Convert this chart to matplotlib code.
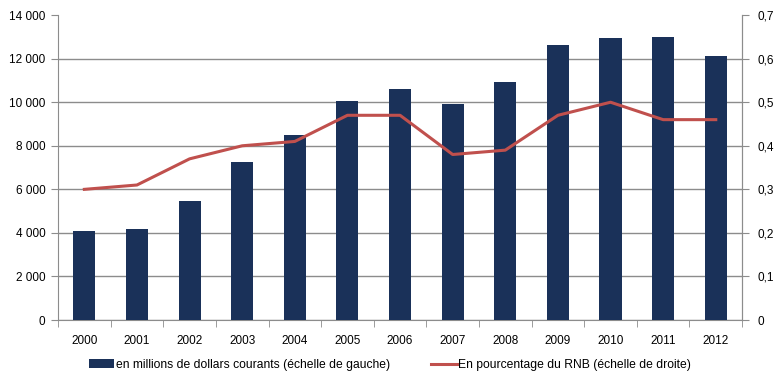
import matplotlib
matplotlib.use("Agg")
import matplotlib.pyplot as plt
from matplotlib.ticker import FuncFormatter
import numpy as np

years = ["2000", "2001", "2002", "2003", "2004", "2005", "2006", "2007", "2008", "2009", "2010", "2011", "2012"]
montants = [4080, 4170, 5460, 7250, 8490, 10050, 10600, 9910, 10920, 12610, 12940, 12980, 12110]
pct_rnb = [0.30, 0.31, 0.37, 0.40, 0.41, 0.47, 0.47, 0.38, 0.39, 0.47, 0.50, 0.46, 0.46]
label_bar = "en millions de dollars courants (échelle de gauche)"
label_line = "En pourcentage du RNB (échelle de droite)"

plt.rcParams['font.family'] = ['Liberation Sans', 'DejaVu Sans']
fig = plt.figure(figsize=(7.8, 3.87), dpi=100)
ax = fig.add_axes([0.0744, 0.173, 0.877, 0.788])
x = np.arange(len(years))
bars = ax.bar(x, montants, width=0.42, color="#1a3159", zorder=3, label=label_bar)
ax.set_xlim(-0.5, len(years) - 0.5)
ax.set_ylim(0, 14000)
ax.set_yticks(np.arange(0, 14001, 2000))
ax.yaxis.set_major_formatter(FuncFormatter(lambda v, p: f"{int(v):,}".replace(",", " ")))
ax.grid(axis="y", color="#8c8c8c", linewidth=1, zorder=0)
ax.get_ygridlines()[-1].set_visible(False)
ax.set_xticks(x)
ax.set_xticklabels(years)
ax.set_xticks(np.arange(-0.5, len(years)), minor=True)
ax.tick_params(axis="x", which="major", length=0, pad=11, labelsize=8.5, colors="#000000")
ax.tick_params(axis="x", which="minor", length=5, color="#8c8c8c")
ax.tick_params(axis="y", length=5, color="#8c8c8c", labelsize=8.5, pad=4)
for s in ["top"]:
    ax.spines[s].set_visible(False)
for s in ["left", "bottom", "right"]:
    ax.spines[s].set_color("#8c8c8c")

ax2 = ax.twinx()
line, = ax2.plot(x, pct_rnb, color="#c0504d", linewidth=2.2, zorder=4, label=label_line)
ax2.set_ylim(0, 0.7)
ax2.set_yticks(np.arange(0, 0.71, 0.1))
ax2.yaxis.set_major_formatter(FuncFormatter(lambda v, p: "0" if abs(v) < 1e-9 else f"{v:.1f}".replace(".", ",")))
ax2.tick_params(axis="y", length=5, color="#8c8c8c", labelsize=8.5, pad=6)
ax2.spines["top"].set_visible(False)
ax2.spines["right"].set_color("#8c8c8c")
ax2.spines["left"].set_visible(False)
ax2.spines["bottom"].set_visible(False)

fig.legend([bars, line], [label_bar, label_line], loc="center", bbox_to_anchor=(0.5, 0.057),
           ncol=2, frameon=False, fontsize=8.7, handlelength=2.1, handletextpad=0.15, columnspacing=3.4)
fig.savefig("out.png", dpi=100)
